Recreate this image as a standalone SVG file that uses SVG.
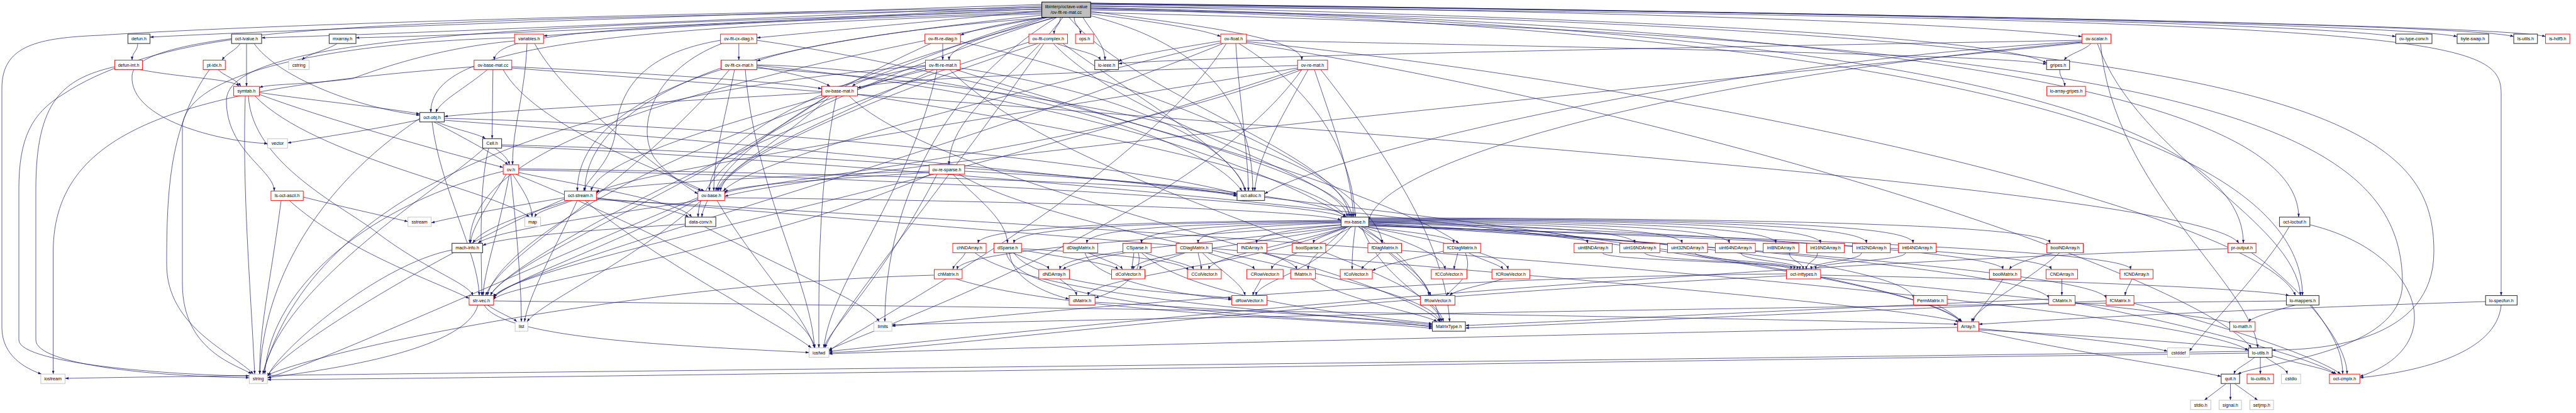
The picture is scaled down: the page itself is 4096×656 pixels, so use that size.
<svg xmlns="http://www.w3.org/2000/svg" width="4096" height="656" viewBox="0 0 4096 656">
<defs>
<marker id="a" markerUnits="userSpaceOnUse" markerWidth="5.5" markerHeight="4" viewBox="0 0 10 7" refX="10" refY="3.5" orient="auto"><path d="M0,0L10,3.5L0,7z" fill="#191970"/></marker>
<style>
rect{fill:#fff}
.k rect{stroke:#3a3a3a;stroke-width:1.1}
.r rect{stroke:#ff0000;stroke-width:0.9}
.g rect{stroke:#bfbfbf;stroke-width:0.9}
.root rect{fill:#bfbfbf;stroke:#000;stroke-width:1}
text{font-family:"Liberation Sans",Arial,sans-serif;font-size:7.15px;text-anchor:middle;fill:#000}
#edges path{fill:none;stroke:#191970;stroke-width:0.7;marker-end:url(#a)}
</style>
</defs>
<rect x="0" y="0" width="4096" height="656" style="fill:#fff;stroke:none"/>
<g id="edges">
<path d="M1656.6,12 C1000,22 400,40 160,56 C60,60 3,72 3,140 L3,520 C3,565 40,585 66,594.2"/>
<path d="M1656.6,7 Q500,45 238.5,59"/>
<path d="M1656.6,9 Q700,52 416,60"/>
<path d="M1656.6,11 Q850,54 566,60"/>
<path d="M1656.6,14 Q1050,42 864.2,57"/>
<path d="M1656.6,17 Q1330,48 1203.5,60"/>
<path d="M1660,27.6 Q1560,42 1527.2,56"/>
<path d="M1686,27.6 C1686,41 1676,41 1676,54.1"/>
<path d="M1708,27.6 C1708,41 1718,41 1718,54.1"/>
<path d="M1722,27.6 C1735,50 1757,70 1757,95.6"/>
<path d="M1734.2,22 Q1900,42 1941.1,58"/>
<path d="M1734.2,7 Q3000,24 3310.3,58"/>
<path d="M1734.2,5 Q3600,28 3809.4,58"/>
<path d="M1734.2,5 Q3760,30 3907,58"/>
<path d="M1734.2,6 Q3900,32 3997,58"/>
<path d="M1734.2,6 Q3960,34 4047.6,58"/>
<path d="M1734.2,9 Q3150,42 3254.2,100"/>
<path d="M1734.2,18 C1900,40 2070,60 2070,95.6"/>
<path d="M1665,27.6 C1600,50 1509,70 1509,95.6"/>
<path d="M1656.6,24 Q1300,62 1203.5,97"/>
<path d="M1656.6,20 C1000,40 786,50 786,95.6"/>
<path d="M1656.6,22 C900,45 685,80 685,178.7"/>
<path d="M1662,27.6 C1500,70 1400,130 1306.5,142"/>
<path d="M1656.6,15 C700,30 215,40 210,120 C205,190 350,225 425.7,228"/>
<path d="M1656.6,18 C800,40 360,60 360,160 C360,240 436,270 436,303.4"/>
<path d="M1670,27.6 C1200,60 918,150 918,303.4"/>
<path d="M1680,27.6 C1400,100 1128,200 1128,303.4"/>
<path d="M1690,27.6 C1620,120 1509,180 1509,261.8"/>
<path d="M1734.2,25 C1950,80 1992,200 1992,303.4"/>
<path d="M1680,27.6 C1480,150 1407,350 1407,511.1"/>
<path d="M1660,27.6 C1000,150 747,250 747,386.4"/>
<path d="M1675,27.6 C1300,150 1110,250 1110,344.9"/>
<path d="M1700,27.6 C1800,150 2145,250 2145,344.9"/>
<path d="M1734.2,12 C3000,40 3655,150 3655,344.9"/>
<path d="M1734.2,13 C3100,42 3567,200 3567,386.4"/>
<path d="M1734.2,14 C3200,50 3661,250 3661,469.5"/>
<path d="M1734.2,10 C3900,30 3977,60 3977,150 L3977,469.5"/>
<path d="M1734.2,16 C3700,40 3870,200 3870,400 C3870,540 3700,556 3612.9,556"/>
<path d="M1734.2,20 C3500,60 3820,200 3820,450 C3820,560 3600,575 3558,594.2"/>
<path d="M219,69.1 C219,82 210,82 210,95.6"/>
<path d="M222,110.6 C300,125 370,125 380,137.2"/>
<path d="M182.4,106 C100,125 57,160 57,300 L57,540 C57,580 250,598 396.3,600"/>
<path d="M382,69.1 C375,80 360,85 353,95.6"/>
<path d="M392,69.1 L392,137.2"/>
<path d="M404,69.1 C440,120 560,170 667.5,183"/>
<path d="M368.2,63 C250,80 160,110 100,150 C50,180 30,220 30,300 L30,540 C30,580 300,597 396.3,597"/>
<path d="M536,69.1 C520,80 490,85 480,95.6"/>
<path d="M347,110.6 C355,120 375,125 383,137.2"/>
<path d="M333,110.6 C270,200 265,300 265,420 C265,520 370,560 403,594.2"/>
<path d="M412.4,147 C500,160 620,172 667.5,181"/>
<path d="M412.4,150 C520,190 700,240 800.1,266"/>
<path d="M390,152.2 C385,300 398,450 405,594.2"/>
<path d="M395,152.2 C400,260 550,330 600,370 C680,430 745,450 752,469.5"/>
<path d="M405,152.2 C500,250 780,300 842,344.9"/>
<path d="M818.2,65 C700,75 600,110 560,125 C480,135 430,133 412.4,139"/>
<path d="M838,69.1 C835,150 815,200 815,261.8"/>
<path d="M850,69.1 C900,160 1050,270 1109.7,308"/>
<path d="M818.2,60 C600,65 300,100 290,200 L290,450 C290,560 380,580 400,594.2"/>
<path d="M1174.8,69.1 L1174.8,95.6"/>
<path d="M1145.7,64 C1050,80 990,120 980,200 C975,260 935,280 928,303.4"/>
<path d="M1148,69.1 C1040,110 1010,200 1040,250 C1070,290 1110,300 1115,303.4"/>
<path d="M1203.5,64 C1600,120 2200,300 2320,386.4"/>
<path d="M1203.5,106 C1250,115 1300,125 1320,137.2"/>
<path d="M1168,110.6 C1150,200 1135,250 1135,303.4"/>
<path d="M1146.5,108 C1000,160 930,230 930,303.4"/>
<path d="M1203.5,104 C1700,150 2250,300 2290,511.1"/>
<path d="M1203.5,103 C1500,110 1900,200 1975,303.4"/>
<path d="M1160,110.6 C1000,300 800,400 772,469.5"/>
<path d="M1185,110.6 C1200,300 1290,450 1295,552.6"/>
<path d="M1203.5,108 C1800,150 2140,250 2150,344.9"/>
<path d="M1471.6,105 C1420,115 1370,125 1355,137.2"/>
<path d="M1485,110.6 C1300,200 1160,250 1145,303.4"/>
<path d="M1475,110.6 C1200,180 950,250 940,303.4"/>
<path d="M1526.9,108 C1800,150 1960,230 1980,303.4"/>
<path d="M1510,110.6 C1700,300 2280,420 2295,511.1"/>
<path d="M1471.6,108 C1000,250 790,400 775,469.5"/>
<path d="M1490,110.6 C1450,300 1320,450 1310,552.6"/>
<path d="M1520,110.6 C1800,200 2140,280 2148,344.9"/>
<path d="M1471.6,104 C900,150 500,300 418,594.2"/>
<path d="M1499,69.1 L1499,95.6"/>
<path d="M1527.2,66 C1900,150 2190,300 2198,386.4"/>
<path d="M1480,69.1 C1300,150 1150,250 1138,303.4"/>
<path d="M2063.2,104 C1700,115 1400,125 1363.4,140"/>
<path d="M2070,110.6 C1700,250 1160,290 1152.2,308"/>
<path d="M2063.2,108 C1500,200 960,280 948.3,308"/>
<path d="M2080,110.6 C2030,200 2000,250 1995,303.4"/>
<path d="M2100,110.6 C2250,300 2300,420 2305,511.1"/>
<path d="M2090,110.6 C2120,200 2150,280 2152,344.9"/>
<path d="M2063.2,110 C1500,300 800,420 784.9,474"/>
<path d="M2070,110.6 C1900,350 1340,540 1318,556"/>
<path d="M1680,69.1 C1710,80 1745,85 1750,95.6"/>
<path d="M1690,69.1 C1800,150 1975,250 1980,303.4"/>
<path d="M1650,69.1 C1400,150 1160,250 1142,303.4"/>
<path d="M1636,67 C1200,200 800,420 780,469.5"/>
<path d="M1660,69.1 C1500,300 1330,500 1312,552.6"/>
<path d="M1675,69.1 C1800,200 2140,280 2142,344.9"/>
<path d="M1941.1,65 C1850,80 1790,90 1778.4,98"/>
<path d="M1965,69.1 C1970,150 1985,250 1985,303.4"/>
<path d="M1941.1,68 C1600,150 1200,250 1150,303.4"/>
<path d="M1981.9,66 C2800,150 3600,350 3650,469.5"/>
<path d="M1981.9,68 C2800,200 3500,450 3580,552.6"/>
<path d="M1981.9,64 C2800,80 3200,90 3254.2,102"/>
<path d="M1970,69.1 C2100,150 2150,250 2155,344.9"/>
<path d="M1945,69.1 C1500,250 800,430 784.9,472"/>
<path d="M1950,69.1 C1800,300 1360,520 1318,558"/>
<path d="M3325,69.1 C3315,80 3290,85 3282,95.6"/>
<path d="M3310.3,64 C2700,75 1900,90 1778.4,101"/>
<path d="M3310.3,66 C2700,100 2100,250 2010.8,308"/>
<path d="M3310.3,68 C2500,150 1300,270 1152.2,312"/>
<path d="M3335,69.1 C3400,250 3650,350 3658,469.5"/>
<path d="M3340,69.1 C3360,300 3580,450 3590,552.6"/>
<path d="M3310.3,67 C2700,120 2200,250 2176.3,350"/>
<path d="M3275,110.6 C3275,125 3283,125 3283,137.2"/>
<path d="M775,110.6 C740,140 700,160 693,178.7"/>
<path d="M783.8,110.6 L782.5,220.3"/>
<path d="M813.8,106 C1000,115 1250,130 1306.5,141"/>
<path d="M813.8,108 C2000,200 3500,300 3560,386.4"/>
<path d="M800,110.6 C850,200 1050,270 1120,303.4"/>
<path d="M753.8,106 C300,140 84.6,200 84.6,400 L84.6,594.2"/>
<path d="M1306.5,147 C1100,160 800,175 706.4,185"/>
<path d="M1320,152.2 C1250,220 1150,270 1140,303.4"/>
<path d="M1350,152.2 C1500,300 2200,420 2290,511.1"/>
<path d="M1363.4,150 C1700,200 2100,280 2140,344.9"/>
<path d="M1315,152.2 C1100,300 800,420 780,469.5"/>
<path d="M1330,152.2 C1300,300 1302,450 1302,552.6"/>
<path d="M667.5,190 C600,205 500,220 457.2,227"/>
<path d="M695,193.7 C720,205 760,212 772,220.3"/>
<path d="M690,193.7 C740,220 795,250 808,261.8"/>
<path d="M706.4,188 C1200,200 1800,260 1967,308"/>
<path d="M687,193.7 C700,300 760,400 762,469.5"/>
<path d="M667.5,188 C500,300 420,450 413,594.2"/>
<path d="M706.4,191 C1500,250 3000,400 3120,511.1"/>
<path d="M787,235.3 C800,245 808,252 810,261.8"/>
<path d="M770,235.3 C700,300 450,450 418,594.2"/>
<path d="M797.6,230 C1200,240 1800,280 1967,310"/>
<path d="M797.6,232 C1500,260 3000,400 3118,511.1"/>
<path d="M777,235.3 C760,300 766,420 766,469.5"/>
<path d="M812,276.8 C820,350 829,450 829,511.1"/>
<path d="M815,276.8 C830,300 845,320 846,344.9"/>
<path d="M820,276.8 C1000,350 1280,480 1296,552.6"/>
<path d="M824.8,274 C950,300 1080,320 1100,344.9"/>
<path d="M805,276.8 C780,320 750,360 748,386.4"/>
<path d="M824.8,270 C1400,280 2100,320 2140,346"/>
<path d="M824.8,268 C1300,275 1900,290 1967,312"/>
<path d="M810,276.8 C790,380 770,430 768,469.5"/>
<path d="M800.1,272 C600,320 430,450 421,594.2"/>
<path d="M482.2,313 C550,330 620,345 648.7,352"/>
<path d="M447,318.4 C430,450 412,520 413,594.2"/>
<path d="M460,318.4 C550,400 700,450 745.9,474"/>
<path d="M897.5,314 C800,330 720,345 685.6,354"/>
<path d="M910,318.4 C880,330 855,335 850,344.9"/>
<path d="M948.3,314 C1020,325 1080,335 1095,344.9"/>
<path d="M905,318.4 C800,350 760,370 752,386.4"/>
<path d="M897.5,316 C700,400 440,560 425.2,598"/>
<path d="M930,318.4 C1050,420 1250,520 1290,552.6"/>
<path d="M948.3,315 C2000,400 3000,480 3115,511.1"/>
<path d="M948.3,317 C2500,400 3500,500 3575.2,557"/>
<path d="M918,318.4 C880,400 840,470 834,511.1"/>
<path d="M1140,318.4 C1200,420 1280,500 1295,552.6"/>
<path d="M1115,318.4 C1000,420 860,480 838,511.1"/>
<path d="M1125,318.4 C1120,330 1117,335 1116,344.9"/>
<path d="M1152.2,314 C1700,320 2100,335 2132.4,350"/>
<path d="M1109.7,316 C1000,380 820,440 784.9,472"/>
<path d="M1109.7,314 C900,400 500,580 425.2,600"/>
<path d="M1112,318.4 C900,350 780,370 760,386.4"/>
<path d="M1515,276.8 C1560,320 1600,350 1602,386.4"/>
<path d="M1477.3,272 C1200,280 960,295 948.3,306"/>
<path d="M1477.3,274 C1300,285 1170,295 1152.2,305"/>
<path d="M1525,276.8 C1700,380 2270,440 2290,511.1"/>
<path d="M1533.8,272 C1900,290 2120,320 2140,344.9"/>
<path d="M1480,276.8 C1200,400 800,450 784.9,476"/>
<path d="M1490,276.8 C1400,450 1320,520 1310,552.6"/>
<path d="M2132.4,350 C1800,352 1560,360 1555,386.4"/>
<path d="M2132.4,351 C1800,354 1615,362 1612,386.4"/>
<path d="M2132.4,352 C1850,356 1730,365 1728,386.4"/>
<path d="M2132.4,353 C1900,358 1815,368 1815,386.4"/>
<path d="M2132.4,354 C1950,360 1905,370 1905,386.4"/>
<path d="M2135,357 C2050,365 1998,372 1998,386.4"/>
<path d="M2145,359.9 C2120,370 2090,378 2088,386.4"/>
<path d="M2160,359.9 C2175,370 2195,378 2198,386.4"/>
<path d="M2170,359.9 C2250,370 2310,375 2312,386.4"/>
<path d="M2176.3,354 C2400,360 2520,370 2525,386.4"/>
<path d="M2176.3,353 C2450,358 2595,368 2600,386.4"/>
<path d="M2176.3,352 C2500,356 2670,366 2675,386.4"/>
<path d="M2176.3,351 C2550,354 2745,364 2750,386.4"/>
<path d="M2176.3,350 C2600,352 2820,362 2824,386.4"/>
<path d="M2176.3,349 C2650,350 2890,360 2895,386.4"/>
<path d="M2176.3,348 C2700,349 2965,358 2968,386.4"/>
<path d="M2176.3,347 C2750,348 3040,356 3042,386.4"/>
<path d="M2176.3,346 C2900,347 3250,360 3260,386.4"/>
<path d="M2132.4,357 C1800,380 1525,400 1522,428"/>
<path d="M2135,359.9 C1900,390 1690,400 1685,428"/>
<path d="M2140,359.9 C1950,395 1805,405 1802,428"/>
<path d="M2145,359.9 C2000,400 1925,410 1922,428"/>
<path d="M2150,359.9 C2080,400 2025,410 2022,428"/>
<path d="M2142,359.9 C2100,400 2080,410 2080,428"/>
<path d="M2155,359.9 C2150,400 2150,410 2150,428"/>
<path d="M2165,359.9 C2260,390 2295,410 2298,428"/>
<path d="M2170,359.9 C2330,390 2395,410 2398,428"/>
<path d="M2140,359.9 C2000,420 1735,440 1730,469.5"/>
<path d="M2148,359.9 C2100,430 2000,445 1997,469.5"/>
<path d="M2160,359.9 C2230,420 2270,440 2272,469.5"/>
<path d="M2176.3,355 C2700,380 3040,430 3042.6,474"/>
<path d="M2176.3,356 C2800,390 3250,440 3257.7,474"/>
<path d="M2176.3,357 C2900,400 3340,440 3349,474"/>
<path d="M2176.3,358 C2800,380 3250,400 3262,428"/>
<path d="M2176.3,359 C2900,380 3385,400 3388,428"/>
<path d="M2165,359.9 C2200,450 2290,480 2292,511.1"/>
<path d="M2176.3,352 C2700,370 3180,400 3185,428"/>
<path d="M1535,401.4 C1530,412 1518,418 1515,428"/>
<path d="M1550,401.4 C1650,480 2200,505 2277.5,516"/>
<path d="M1610,401.4 C1640,415 1665,420 1668,428"/>
<path d="M1624.2,397 C1700,410 1770,420 1778,428"/>
<path d="M1624.2,395 C1800,405 1880,415 1890,430"/>
<path d="M1605,401.4 C1610,450 1680,470 1700,475"/>
<path d="M1612,401.4 C1650,460 1900,465 1958.6,474"/>
<path d="M1600,401.4 C1620,500 2200,510 2277.5,518"/>
<path d="M1730,401.4 C1760,415 1780,420 1785,428"/>
<path d="M1725,401.4 C1740,450 1900,470 1958.6,476"/>
<path d="M1790,401.4 C1740,410 1700,420 1690,428"/>
<path d="M1803,401.4 C1802,412 1800,418 1800,428"/>
<path d="M1820,401.4 C1860,415 1895,420 1898,428"/>
<path d="M1810,401.4 C1820,440 1770,465 1741.2,473"/>
<path d="M1815,401.4 C1900,480 2200,505 2277.5,514"/>
<path d="M1905,401.4 C1907,412 1910,418 1910,428"/>
<path d="M1920,401.4 C1960,415 1990,420 1995,428"/>
<path d="M1912,401.4 C1940,430 1975,450 1980,469.5"/>
<path d="M1885,401.4 C1850,415 1815,420 1812,428"/>
<path d="M2005,443 C2000,455 1994,460 1992,469.5"/>
<path d="M1685,443 C1700,455 1710,460 1712,469.5"/>
<path d="M1741.2,480 C2000,495 2200,505 2277.5,520"/>
<path d="M2005,401.4 C2040,410 2060,420 2062,428"/>
<path d="M2195,401.4 C2185,412 2170,418 2165,428"/>
<path d="M2208,401.4 C2240,430 2270,455 2275,469.5"/>
<path d="M2295.1,399 C2250,410 2200,420 2182,430"/>
<path d="M2318,401.4 C2316,412 2313,418 2312,428"/>
<path d="M2335,401.4 C2360,415 2385,420 2390,428"/>
<path d="M2330,401.4 C2345,440 2310,455 2300,469.5"/>
<path d="M2390,443 C2350,455 2315,460 2305,469.5"/>
<path d="M2085,443 C2150,480 2270,500 2285,511.1"/>
<path d="M2548,401.4 C2548,415 2848,415 2848,428"/>
<path d="M2615,401.4 C2615,415 2853,415 2853,428"/>
<path d="M2695,401.4 C2695,415 2858,415 2858,428"/>
<path d="M2768,401.4 C2768,415 2862,415 2862,428"/>
<path d="M2845,401.4 C2845,415 2867,415 2867,428"/>
<path d="M2890,401.4 C2890,415 2872,415 2872,428"/>
<path d="M2960,401.4 C2960,415 2880,415 2880,428"/>
<path d="M3030,401.4 C3030,415 2887,415 2887,428"/>
<path d="M2840.5,435 C2200,440 1600,500 1418.1,518"/>
<path d="M2840.5,438 C2000,480 1500,555 1318,560"/>
<path d="M2894.9,437 C3300,445 3600,460 3640,469.5"/>
<path d="M2894.9,440 C3200,470 3500,500 3550,513"/>
<path d="M3265,401.4 C3230,410 3200,420 3195,428"/>
<path d="M3275,401.4 C3220,450 3140,490 3135,511.1"/>
<path d="M3185,443 C3160,480 3140,500 3137,511.1"/>
<path d="M3080,484.5 C3100,495 3115,505 3118,511.1"/>
<path d="M3278.5,443 L3278.5,469.5"/>
<path d="M3390,443 C3385,455 3380,460 3379,469.5"/>
<path d="M3257.7,475 C2900,490 2500,510 2330.1,517"/>
<path d="M3299.6,481 C3500,520 3680,570 3715,594.2"/>
<path d="M3349,478 C2900,495 2500,515 2330.1,521"/>
<path d="M3393.1,482 C3550,520 3690,570 3722,594.2"/>
<path d="M3112.6,520 C2500,530 1500,555 1318,562"/>
<path d="M3146.4,522 C3300,535 3420,550 3446.6,558"/>
<path d="M3146.4,524 C3350,535 3540,548 3575.2,556"/>
<path d="M3146.4,526 C3300,560 3480,585 3531.8,598"/>
<path d="M3952.2,479 C3600,490 3300,505 3146.4,515"/>
<path d="M3977,484.5 C3970,560 3850,590 3752.2,600"/>
<path d="M3650,484.5 C3610,495 3580,505 3575,511.1"/>
<path d="M3675,484.5 C3710,530 3725,560 3725,594.2"/>
<path d="M3635.5,478 C3000,485 1800,505 1418.1,516"/>
<path d="M3542.4,395 C2500,430 1600,530 1318,558"/>
<path d="M3580,401.4 C3650,450 3732,540 3732,594.2"/>
<path d="M3640,359.9 C3600,430 3500,530 3481.2,558"/>
<path d="M3672.8,357 C3850,400 3900,550 3752.2,598"/>
<path d="M3585,567.6 C3570,580 3555,585 3552,594.2"/>
<path d="M3594.1,567.6 L3594.1,594.2"/>
<path d="M3603,567.6 C3620,580 3635,585 3637,594.2"/>
<path d="M3612.9,565 C3660,580 3700,585 3712,594.2"/>
<path d="M3575.2,558 C2000,580 400,595 103.5,601"/>
<path d="M3575.2,561 C2500,575 900,600 425.2,603"/>
<path d="M3540,609.2 L3505,635.7"/>
<path d="M3546.5,609.2 L3546.5,635.7"/>
<path d="M3553,609.2 L3590,635.7"/>
<path d="M775,484.5 C790,495 815,505 822,511.1"/>
<path d="M770,484.5 C800,540 1100,550 1286.4,560"/>
<path d="M760,484.5 C740,560 500,590 425.2,600"/>
<path d="M784.9,478 C1800,490 2800,505 3112.6,515"/>
<path d="M1089.6,356 C950,365 800,375 767.4,390"/>
<path d="M1120,359.9 C1250,430 1380,480 1398,511.1"/>
<path d="M718.7,397 C600,420 440,560 425.2,598"/>
<path d="M1520,443 C1700,500 2200,510 2277.5,522"/>
<path d="M1485.6,437 C1000,450 500,560 425.2,596"/>
</g>
<g id="nodes">
<g id="node_root" class="root"><rect x="1656.6" y="3.2" width="77.6" height="24.4"/><text x="1695.4" y="13.1">libinterp/octave-value</text><text x="1695.4" y="22.3">/ov-flt-re-mat.cc</text></g>
<g id="node_defun_h" class="k"><rect x="203.4" y="54.1" width="35.1" height="15"/><text x="221" y="64.1">defun.h</text></g>
<g id="node_oct_lvalue_h" class="k"><rect x="368.2" y="54.1" width="47.8" height="15"/><text x="392.1" y="64.1">oct-lvalue.h</text></g>
<g id="node_mxarray_h" class="k"><rect x="523.4" y="54.1" width="42.6" height="15"/><text x="544.7" y="64.1">mxarray.h</text></g>
<g id="node_variables_h" class="r"><rect x="818.2" y="54.1" width="46" height="15"/><text x="841.2" y="64.1">variables.h</text></g>
<g id="node_ov_flt_cx_diag_h" class="r"><rect x="1145.7" y="54.1" width="57.8" height="15"/><text x="1174.6" y="64.1">ov-flt-cx-diag.h</text></g>
<g id="node_ov_flt_re_diag_h" class="r"><rect x="1470.7" y="54.1" width="56.5" height="15"/><text x="1499" y="64.1">ov-flt-re-diag.h</text></g>
<g id="node_ov_flt_complex_h" class="r"><rect x="1636" y="54.1" width="61.4" height="15"/><text x="1666.7" y="64.1">ov-flt-complex.h</text></g>
<g id="node_ops_h" class="r"><rect x="1710.1" y="54.1" width="28.9" height="15"/><text x="1724.5" y="64.1">ops.h</text></g>
<g id="node_ov_float_h" class="r"><rect x="1941.1" y="54.1" width="40.8" height="15"/><text x="1961.5" y="64.1">ov-float.h</text></g>
<g id="node_ov_scalar_h" class="r"><rect x="3310.3" y="54.1" width="46.3" height="15"/><text x="3333.4" y="64.1">ov-scalar.h</text></g>
<g id="node_ov_type_conv_h" class="k"><rect x="3809.4" y="54.1" width="57.6" height="15"/><text x="3838.2" y="64.1">ov-type-conv.h</text></g>
<g id="node_byte_swap_h" class="k"><rect x="3907" y="54.1" width="50.1" height="15"/><text x="3932" y="64.1">byte-swap.h</text></g>
<g id="node_ls_utils_h" class="k"><rect x="3997" y="54.1" width="37.7" height="15"/><text x="4015.9" y="64.1">ls-utils.h</text></g>
<g id="node_ls_hdf5_h" class="r"><rect x="4047.6" y="54.1" width="38.5" height="15"/><text x="4066.9" y="64.1">ls-hdf5.h</text></g>
<g id="node_defun_int_h" class="r"><rect x="182.4" y="95.6" width="44.2" height="15"/><text x="204.5" y="105.6">defun-int.h</text></g>
<g id="node_pt_idx_h" class="r"><rect x="323.1" y="95.6" width="35.1" height="15"/><text x="340.6" y="105.6">pt-idx.h</text></g>
<g id="node_cstring" class="g"><rect x="459" y="95.6" width="32.4" height="15"/><text x="475.2" y="105.6">cstring</text></g>
<g id="node_ov_base_mat_cc" class="r"><rect x="753.8" y="95.6" width="60" height="15"/><text x="783.8" y="105.6">ov-base-mat.cc</text></g>
<g id="node_ov_flt_cx_mat_h" class="r"><rect x="1146.5" y="95.6" width="57" height="15"/><text x="1175" y="105.6">ov-flt-cx-mat.h</text></g>
<g id="node_ov_flt_re_mat_h" class="r"><rect x="1471.6" y="95.6" width="55.3" height="15"/><text x="1499.2" y="105.6">ov-flt-re-mat.h</text></g>
<g id="node_lo_ieee_h" class="k"><rect x="1740.7" y="95.6" width="37.7" height="15"/><text x="1759.6" y="105.6">lo-ieee.h</text></g>
<g id="node_ov_re_mat_h" class="r"><rect x="2063.2" y="95.6" width="47.8" height="15"/><text x="2087.1" y="105.6">ov-re-mat.h</text></g>
<g id="node_gripes_h" class="k"><rect x="3254.2" y="95.6" width="36.5" height="15"/><text x="3272.5" y="105.6">gripes.h</text></g>
<g id="node_symtab_h" class="r"><rect x="371.6" y="137.2" width="40.8" height="15"/><text x="392" y="147.2">symtab.h</text></g>
<g id="node_ov_base_mat_h" class="r"><rect x="1306.5" y="137.2" width="56.9" height="15"/><text x="1335" y="147.2">ov-base-mat.h</text></g>
<g id="node_lo_array_gripes_h" class="r"><rect x="3254.6" y="137.2" width="61.5" height="15"/><text x="3285.4" y="147.2">lo-array-gripes.h</text></g>
<g id="node_oct_obj_h" class="k"><rect x="667.5" y="178.7" width="38.9" height="15"/><text x="687" y="188.7">oct-obj.h</text></g>
<g id="node_vector" class="g"><rect x="425.7" y="220.3" width="31.5" height="15"/><text x="441.4" y="230.3">vector</text></g>
<g id="node_Cell_h" class="k"><rect x="767.4" y="220.3" width="30.2" height="15"/><text x="782.5" y="230.3">Cell.h</text></g>
<g id="node_ov_h" class="r"><rect x="800.1" y="261.8" width="24.7" height="15"/><text x="812.5" y="271.8">ov.h</text></g>
<g id="node_ov_re_sparse_h" class="r"><rect x="1477.3" y="261.8" width="56.5" height="15"/><text x="1505.5" y="271.8">ov-re-sparse.h</text></g>
<g id="node_ls_oct_ascii_h" class="r"><rect x="430.9" y="303.4" width="51.3" height="15"/><text x="456.6" y="313.4">ls-oct-ascii.h</text></g>
<g id="node_oct_stream_h" class="r"><rect x="897.5" y="303.4" width="50.8" height="15"/><text x="922.9" y="313.4">oct-stream.h</text></g>
<g id="node_ov_base_h" class="r"><rect x="1109.7" y="303.4" width="42.5" height="15"/><text x="1131" y="313.4">ov-base.h</text></g>
<g id="node_oct_alloc_h" class="k"><rect x="1967" y="303.4" width="43.8" height="15"/><text x="1988.9" y="313.4">oct-alloc.h</text></g>
<g id="node_sstream" class="g"><rect x="648.7" y="344.9" width="36.9" height="15"/><text x="667.1" y="354.9">sstream</text></g>
<g id="node_map" class="g"><rect x="834.4" y="344.9" width="25" height="15"/><text x="846.9" y="354.9">map</text></g>
<g id="node_data_conv_h" class="k"><rect x="1089.6" y="344.9" width="48.6" height="15"/><text x="1113.9" y="354.9">data-conv.h</text></g>
<g id="node_mx_base_h" class="k"><rect x="2132.4" y="344.9" width="43.9" height="15"/><text x="2154.4" y="354.9">mx-base.h</text></g>
<g id="node_oct_locbuf_h" class="k"><rect x="3624.5" y="344.9" width="48.3" height="15"/><text x="3648.6" y="354.9">oct-locbuf.h</text></g>
<g id="node_mach_info_h" class="k"><rect x="718.7" y="386.4" width="48.7" height="15"/><text x="743" y="396.4">mach-info.h</text></g>
<g id="node_chNDArray_h" class="r"><rect x="1515" y="386.4" width="53" height="15"/><text x="1541.5" y="396.4">chNDArray.h</text></g>
<g id="node_dSparse_h" class="r"><rect x="1580.3" y="386.4" width="43.9" height="15"/><text x="1602.3" y="396.4">dSparse.h</text></g>
<g id="node_dDiagMatrix_h" class="r"><rect x="1690.8" y="386.4" width="54.8" height="15"/><text x="1718.2" y="396.4">dDiagMatrix.h</text></g>
<g id="node_CSparse_h" class="r"><rect x="1785.5" y="386.4" width="44.7" height="15"/><text x="1807.9" y="396.4">CSparse.h</text></g>
<g id="node_CDiagMatrix_h" class="r"><rect x="1870.1" y="386.4" width="57.4" height="15"/><text x="1898.8" y="396.4">CDiagMatrix.h</text></g>
<g id="node_fNDArray_h" class="r"><rect x="1967.4" y="386.4" width="46.9" height="15"/><text x="1990.9" y="396.4">fNDArray.h</text></g>
<g id="node_boolSparse_h" class="r"><rect x="2054.8" y="386.4" width="53.1" height="15"/><text x="2081.4" y="396.4">boolSparse.h</text></g>
<g id="node_fDiagMatrix_h" class="r"><rect x="2175" y="386.4" width="53.5" height="15"/><text x="2201.7" y="396.4">fDiagMatrix.h</text></g>
<g id="node_fCDiagMatrix_h" class="r"><rect x="2295.1" y="386.4" width="59.1" height="15"/><text x="2324.7" y="396.4">fCDiagMatrix.h</text></g>
<g id="node_uint8NDArray_h" class="r"><rect x="2502.9" y="386.4" width="60.5" height="15"/><text x="2533.1" y="396.4">uint8NDArray.h</text></g>
<g id="node_uint16NDArray_h" class="r"><rect x="2575.6" y="386.4" width="63.6" height="15"/><text x="2607.4" y="396.4">uint16NDArray.h</text></g>
<g id="node_uint32NDArray_h" class="r"><rect x="2651.5" y="386.4" width="63.6" height="15"/><text x="2683.3" y="396.4">uint32NDArray.h</text></g>
<g id="node_uint64NDArray_h" class="r"><rect x="2727.4" y="386.4" width="63.7" height="15"/><text x="2759.3" y="396.4">uint64NDArray.h</text></g>
<g id="node_int8NDArray_h" class="r"><rect x="2803.6" y="386.4" width="56.5" height="15"/><text x="2831.9" y="396.4">int8NDArray.h</text></g>
<g id="node_int16NDArray_h" class="r"><rect x="2872.6" y="386.4" width="60.1" height="15"/><text x="2902.7" y="396.4">int16NDArray.h</text></g>
<g id="node_int32NDArray_h" class="r"><rect x="2945.6" y="386.4" width="60.1" height="15"/><text x="2975.7" y="396.4">int32NDArray.h</text></g>
<g id="node_int64NDArray_h" class="r"><rect x="3018.6" y="386.4" width="60.1" height="15"/><text x="3048.7" y="396.4">int64NDArray.h</text></g>
<g id="node_boolNDArray_h" class="r"><rect x="3254.6" y="386.4" width="57.9" height="15"/><text x="3283.6" y="396.4">boolNDArray.h</text></g>
<g id="node_pr_output_h" class="r"><rect x="3542.4" y="386.4" width="44.8" height="15"/><text x="3564.8" y="396.4">pr-output.h</text></g>
<g id="node_chMatrix_h" class="r"><rect x="1485.6" y="428" width="44.3" height="15"/><text x="1507.8" y="438">chMatrix.h</text></g>
<g id="node_dNDArray_h" class="r"><rect x="1651.8" y="428" width="48.6" height="15"/><text x="1676.1" y="438">dNDArray.h</text></g>
<g id="node_dColVector_h" class="r"><rect x="1767.5" y="428" width="53" height="15"/><text x="1794" y="438">dColVector.h</text></g>
<g id="node_CColVector_h" class="r"><rect x="1888.1" y="428" width="53.8" height="15"/><text x="1915" y="438">CColVector.h</text></g>
<g id="node_CRowVector_h" class="r"><rect x="1982.3" y="428" width="57.9" height="15"/><text x="2011.3" y="438">CRowVector.h</text></g>
<g id="node_fMatrix_h" class="r"><rect x="2052.2" y="428" width="39.5" height="15"/><text x="2072" y="438">fMatrix.h</text></g>
<g id="node_fColVector_h" class="r"><rect x="2131.1" y="428" width="50.9" height="15"/><text x="2156.6" y="438">fColVector.h</text></g>
<g id="node_fCColVector_h" class="r"><rect x="2275.8" y="428" width="56.6" height="15"/><text x="2304.1" y="438">fCColVector.h</text></g>
<g id="node_fCRowVector_h" class="r"><rect x="2372.2" y="428" width="60.1" height="15"/><text x="2402.3" y="438">fCRowVector.h</text></g>
<g id="node_oct_inttypes_h" class="r"><rect x="2840.5" y="428" width="54.4" height="15"/><text x="2867.7" y="438">oct-inttypes.h</text></g>
<g id="node_boolMatrix_h" class="r"><rect x="3163.3" y="428" width="49.9" height="15"/><text x="3188.3" y="438">boolMatrix.h</text></g>
<g id="node_CNDArray_h" class="r"><rect x="3253.3" y="428" width="50.3" height="15"/><text x="3278.5" y="438">CNDArray.h</text></g>
<g id="node_fCNDArray_h" class="r"><rect x="3370.9" y="428" width="52.6" height="15"/><text x="3397.2" y="438">fCNDArray.h</text></g>
<g id="node_str_vec_h" class="r"><rect x="745.9" y="469.5" width="39" height="15"/><text x="765.4" y="479.5">str-vec.h</text></g>
<g id="node_dMatrix_h" class="r"><rect x="1700" y="469.5" width="41.2" height="15"/><text x="1720.6" y="479.5">dMatrix.h</text></g>
<g id="node_dRowVector_h" class="r"><rect x="1958.6" y="469.5" width="56.1" height="15"/><text x="1986.7" y="479.5">dRowVector.h</text></g>
<g id="node_fRowVector_h" class="r"><rect x="2258.6" y="469.5" width="54.9" height="15"/><text x="2286.1" y="479.5">fRowVector.h</text></g>
<g id="node_PermMatrix_h" class="r"><rect x="3042.6" y="469.5" width="53.5" height="15"/><text x="3069.4" y="479.5">PermMatrix.h</text></g>
<g id="node_CMatrix_h" class="r"><rect x="3257.7" y="469.5" width="41.9" height="15"/><text x="3278.7" y="479.5">CMatrix.h</text></g>
<g id="node_fCMatrix_h" class="r"><rect x="3349" y="469.5" width="44.1" height="15"/><text x="3371.1" y="479.5">fCMatrix.h</text></g>
<g id="node_lo_mappers_h" class="k"><rect x="3635.5" y="469.5" width="51.9" height="15"/><text x="3661.5" y="479.5">lo-mappers.h</text></g>
<g id="node_lo_specfun_h" class="k"><rect x="3952.2" y="469.5" width="50.2" height="15"/><text x="3977.3" y="479.5">lo-specfun.h</text></g>
<g id="node_list" class="g"><rect x="819.1" y="511.1" width="20.2" height="15"/><text x="829.2" y="521.1">list</text></g>
<g id="node_limits" class="g"><rect x="1389.6" y="511.1" width="28.5" height="15"/><text x="1403.9" y="521.1">limits</text></g>
<g id="node_MatrixType_h" class="k"><rect x="2277.5" y="511.1" width="52.6" height="15"/><text x="2303.8" y="521.1">MatrixType.h</text></g>
<g id="node_Array_h" class="r"><rect x="3112.6" y="511.1" width="33.8" height="15"/><text x="3129.5" y="521.1">Array.h</text></g>
<g id="node_lo_math_h" class="r"><rect x="3545.5" y="511.1" width="40.3" height="15"/><text x="3565.7" y="521.1">lo-math.h</text></g>
<g id="node_iosfwd" class="g"><rect x="1286.4" y="552.6" width="31.6" height="15"/><text x="1302.2" y="562.6">iosfwd</text></g>
<g id="node_cstddef" class="g"><rect x="3446.6" y="552.6" width="34.6" height="15"/><text x="3463.9" y="562.6">cstddef</text></g>
<g id="node_lo_utils_h" class="k"><rect x="3575.2" y="552.6" width="37.7" height="15"/><text x="3594.1" y="562.6">lo-utils.h</text></g>
<g id="node_iostream" class="g"><rect x="64.9" y="594.2" width="38.6" height="15"/><text x="84.2" y="604.2">iostream</text></g>
<g id="node_string" class="g"><rect x="396.3" y="594.2" width="28.9" height="15"/><text x="410.8" y="604.2">string</text></g>
<g id="node_quit_h" class="k"><rect x="3531.8" y="594.2" width="29.3" height="15"/><text x="3546.5" y="604.2">quit.h</text></g>
<g id="node_lo_cutils_h" class="r"><rect x="3573" y="594.2" width="42.1" height="15"/><text x="3594.1" y="604.2">lo-cutils.h</text></g>
<g id="node_cstdio" class="g"><rect x="3627.6" y="594.2" width="30.5" height="15"/><text x="3642.9" y="604.2">cstdio</text></g>
<g id="node_oct_cmplx_h" class="r"><rect x="3703.9" y="594.2" width="48.3" height="15"/><text x="3728.1" y="604.2">oct-cmplx.h</text></g>
<g id="node_stdio_h" class="g"><rect x="3483" y="635.7" width="32.4" height="15"/><text x="3499.2" y="645.7">stdio.h</text></g>
<g id="node_signal_h" class="g"><rect x="3528.6" y="635.7" width="35.5" height="15"/><text x="3546.4" y="645.7">signal.h</text></g>
<g id="node_setjmp_h" class="g"><rect x="3577.5" y="635.7" width="37.6" height="15"/><text x="3596.3" y="645.7">setjmp.h</text></g>
</g>
</svg>
